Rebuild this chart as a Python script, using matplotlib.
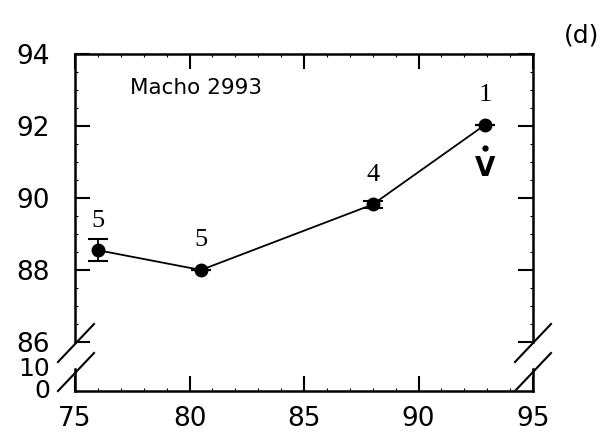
import numpy as np
import matplotlib.pyplot as plt
import matplotlib.transforms as mtransforms
from matplotlib.ticker import MultipleLocator

# measurements
x = [76.0, 80.5, 88.0, 92.9]
y = [88.55, 88.0, 89.82, 92.03]
yerr = [0.3, 0.0, 0.1, 0.0]
counts = ['5', '5', '4', '1']

# upper limit marker under the last point
lim_x = 92.9
lim_dot = 91.4
lim_v = 90.8

plt.rcParams['font.family'] = 'DejaVu Sans'

fig = plt.figure(figsize=(6.08, 4.37), dpi=100)
W, H = 608.0, 437.0

def box(l, t, r, b):
    return [l / W, 1 - b / H, (r - l) / W, (b - t) / H]

ax = fig.add_axes(box(75, 54, 533, 342))
axb = fig.add_axes(box(75, 369, 533, 391))

for a in (ax, axb):
    a.set_xlim(75, 95)
    for s in a.spines.values():
        s.set_linewidth(1.8)
    a.tick_params(which='major', direction='in', length=11, width=1.5,
                  labelsize=19, top=True, right=True)
    a.tick_params(which='minor', direction='in', length=2, width=0.8,
                  top=True, right=True)
    a.xaxis.set_major_locator(MultipleLocator(5))
    a.xaxis.set_minor_locator(MultipleLocator(1))

ax.set_ylim(86, 94)
ax.yaxis.set_major_locator(MultipleLocator(2))
ax.yaxis.set_minor_locator(MultipleLocator(0.5))
ax.spines['bottom'].set_visible(False)
ax.tick_params(axis='x', which='both', bottom=False, labelbottom=False)
ax.tick_params(axis='y', pad=18)

axb.set_ylim(0, 10)
axb.set_yticks([0, 10])
axb.yaxis.set_minor_locator(MultipleLocator(2))
axb.spines['top'].set_visible(False)
axb.tick_params(axis='x', which='both', top=False, pad=11)
axb.tick_params(axis='y', which='major', length=0, pad=18, labelsize=18)
axb.tick_params(axis='y', which='minor', length=0)
fig.canvas.draw()
labs = axb.get_yticklabels()
labs[0].set_transform(labs[0].get_transform() +
                      mtransforms.ScaledTranslation(0, 3 / 100, fig.dpi_scale_trans))
labs[1].set_transform(labs[1].get_transform() +
                      mtransforms.ScaledTranslation(0, 3 / 100, fig.dpi_scale_trans))

ax.errorbar(x, y, yerr=yerr, fmt='o-', color='black', ms=9, lw=1.3,
            elinewidth=1.3, capsize=7, capthick=1.5)

for xi, yi, c in zip(x, y, counts):
    ax.text(xi, yi + 0.82, c, ha='center', va='center', fontsize=19,
            family='Liberation Serif')

ax.plot([lim_x], [lim_dot], 'o', color='black', ms=3.5)
ax.text(lim_x, lim_v, 'V', ha='center', va='center', fontsize=19,
        fontweight='bold')

ax.text(77.4, 93.05, 'Macho 2993', fontsize=15.5, va='center')
fig.text(582 / W, 1 - 36 / H, '(d)', ha='center', va='center', fontsize=18)

# break marks on both sides of the y axis
for xl in (58, 515):
    for yb in (362, 391):
        fig.add_artist(plt.Line2D([xl / W, (xl + 36) / W],
                                  [1 - yb / H, 1 - (yb - 38) / H],
                                  color='black', lw=1.5))

fig.savefig('out.png', dpi=100)
